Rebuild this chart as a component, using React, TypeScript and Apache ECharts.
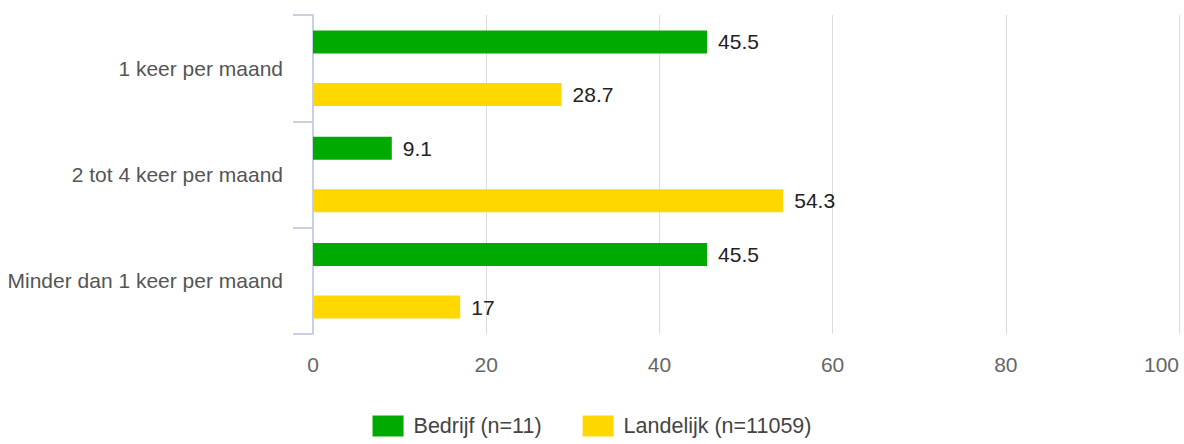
import React, { useEffect, useRef } from "react";
import * as echarts from "echarts";

const categories = ["1 keer per maand", "2 tot 4 keer per maand", "Minder dan 1 keer per maand"];
const bedrijf = [45.5, 9.1, 45.5];
const landelijk = [28.7, 54.3, 17];
const seriesNames = ["Bedrijf (n=11)", "Landelijk (n=11059)"];

export default function App() {
  const ref = useRef<HTMLDivElement>(null);
  useEffect(() => {
    if (!ref.current) return;
    const chart = echarts.init(ref.current, null, { renderer: "svg" });
    const font = "Liberation Sans, Arial, sans-serif";
    chart.setOption({
      animation: false,
      textStyle: { fontFamily: font },
      grid: { left: 313, right: 5, top: 15, bottom: 110, outerBoundsMode: "none", containLabel: false },
      legend: {
        top: 410,
        left: "center",
        itemWidth: 31,
        itemHeight: 21,
        itemGap: 41,
        icon: "rect",
        textStyle: { fontSize: 21.5, color: "#444", fontFamily: font, padding: [0, 0, 0, 5] },
        data: seriesNames,
      },
      xAxis: {
        type: "value",
        min: 0,
        max: 100,
        interval: 20,
        axisLine: { show: false },
        axisTick: { show: false },
        splitLine: { lineStyle: { color: "#dcdcdc", width: 1 } },
        axisLabel: { fontSize: 21, color: "#666", margin: 20, fontFamily: font, alignMaxLabel: "right" },
      },
      yAxis: {
        type: "category",
        inverse: true,
        data: categories,
        axisLine: { show: true, lineStyle: { color: "#c6d2e4", width: 2 } },
        axisTick: { show: true, length: 20, lineStyle: { color: "#c6d2e4", width: 2 } },
        axisLabel: { fontSize: 21, color: "#555", margin: 30, fontFamily: font },
      },
      series: [
        {
          name: seriesNames[0],
          type: "bar",
          data: bedrijf,
          barWidth: 23,
          barGap: "128%",
          itemStyle: { color: "#00aa00" },
          label: { show: true, position: "right", distance: 11, fontSize: 21, color: "#222", fontFamily: font },
        },
        {
          name: seriesNames[1],
          type: "bar",
          data: landelijk,
          barWidth: 23,
          itemStyle: { color: "#ffd800" },
          label: { show: true, position: "right", distance: 11, fontSize: 21, color: "#222", fontFamily: font },
        },
      ],
    });
    return () => chart.dispose();
  }, []);
  return <div ref={ref} style={{ width: 1184, height: 444, position: "absolute", left: 0, top: 0 }} />;
}
